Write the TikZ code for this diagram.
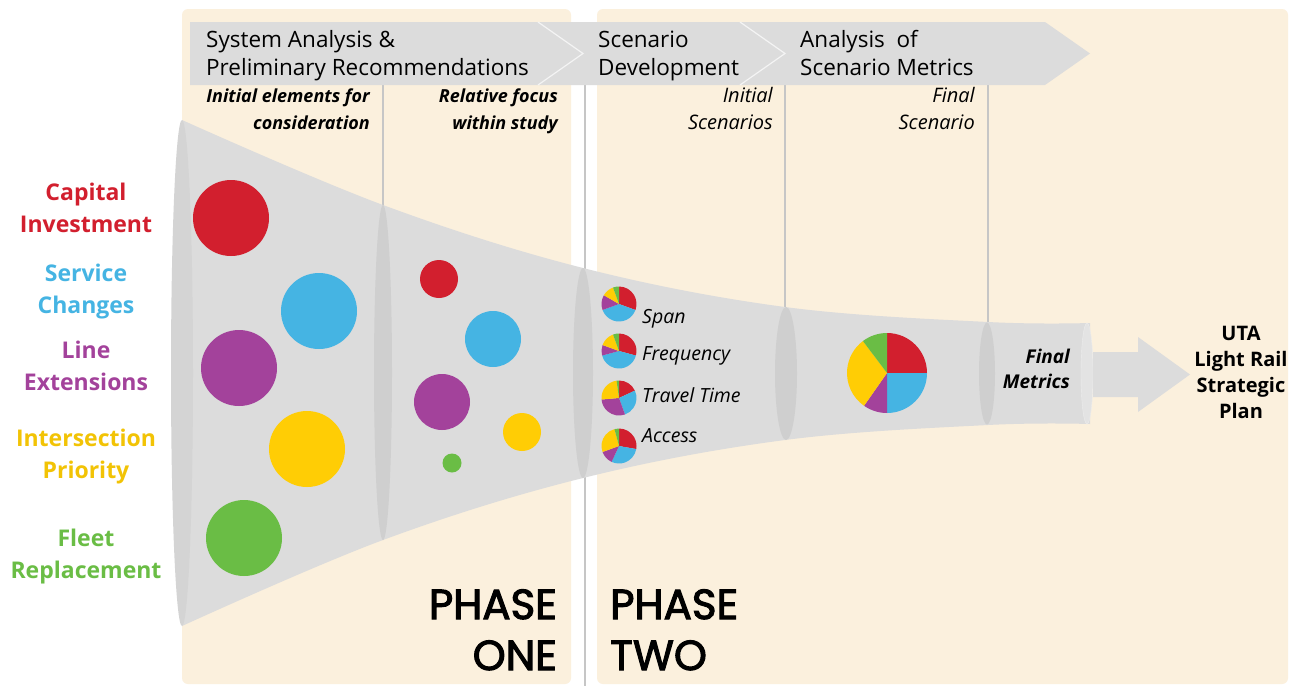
\documentclass[tikz,border=0pt]{standalone}
\usepackage{fontspec}
\setmainfont{Open Sans}
\newfontfamily\phasefont{Poppins}[FakeBold=2.5]
\definecolor{capred}{HTML}{D21F2E}
\definecolor{servblue}{HTML}{45B4E3}
\definecolor{lineplum}{HTML}{A3429B}
\definecolor{prioyellow}{HTML}{FFCD05}
\definecolor{fleetgreen}{HTML}{6ABD45}
\definecolor{beige}{HTML}{FBF0DD}
\definecolor{funnelgrey}{HTML}{DCDCDC}
\definecolor{ringgrey}{HTML}{CFCFCF}
\definecolor{rulegrey}{HTML}{C6C6C6}
\begin{document}
\begin{tikzpicture}[x=1pt, y=-1pt,
    panel/.style={fill=beige, rounded corners=6pt},
    rule/.style={draw=rulegrey, line width=1.6pt},
    chevline/.style={draw=white!70!funnelgrey, line width=1.2pt},
    ring/.style={fill=ringgrey},
    chevtext/.style={anchor=base west, align=left, inner sep=0pt, font=\fontsize{22.5}{28}\selectfont},
    steplabel/.style={anchor=base east, align=right, inner sep=0pt, font=\bfseries\itshape\fontsize{18}{27}\selectfont},
    scenlabel/.style={anchor=base east, align=right, inner sep=0pt, font=\itshape\fontsize{20}{27}\selectfont},
    factor/.style={anchor=base, align=center, inner sep=0pt, font=\bfseries\fontsize{23}{32}\selectfont},
    metric/.style={anchor=base west, inner sep=0pt, font=\itshape\fontsize{19.5}{23}\selectfont},
    phase/.style={inner sep=0pt, font=\phasefont\fontsize{42}{51}\selectfont}]
    \fill[white] (0,0) rectangle (1291,686);
    \useasboundingbox (0,0) rectangle (1291,686);
    % phase panels
    \fill[panel] (182,9) rectangle (571,684);
    \fill[panel] (597,9) rectangle (1288,684);
    \draw[rule] (383,84) -- (383,210);
    \draw[rule] (585,84) -- (585,686);
    \draw[rule] (785,84) -- (785,310);
    \draw[rule] (988,84) -- (988,325);
    % process band
    \fill[funnelgrey] (190,22) -- (1045,22) -- (1090,53.5) -- (1045,85) -- (190,85) -- cycle;
    \draw[chevline] (538,22) -- (583,53.5) -- (538,85);
    \draw[chevline] (740,22) -- (785,53.5) -- (740,85);
    \node[chevtext] (sysanalysis) at (206,75) {System Analysis \&\\Preliminary Recommendations};
    \node[chevtext] (scendev) at (598,75) {Scenario\\Development};
    \node[chevtext] (scenmetrics) at (800,75) {Analysis~ of\\Scenario Metrics};
    \node[steplabel] (initial) at (370,129) {Initial elements for\\consideration};
    \node[steplabel] (relative) at (558,129) {Relative focus\\within study};
    \node[scenlabel] (initscen) at (773,129) {Initial\\Scenarios};
    \node[scenlabel] (finalscen) at (975,129) {Final\\Scenario};
    % funnel
    \fill[funnelgrey] plot[smooth, tension=0.6] coordinates {(182,120) (383,205) (583,268) (785,307) (988,322) (1090,323)}
        -- plot[smooth, tension=0.6] coordinates {(1090,424) (988,425) (785,440) (583,478) (383,540) (182,626)} -- cycle;
    \fill[fill=black!17] (182,373) ellipse[x radius=11pt, y radius=253pt];
    \fill[ring] (383,372.5) ellipse[x radius=9pt, y radius=167.5pt];
    \fill[ring] (583,373) ellipse[x radius=10pt, y radius=105pt];
    \fill[ring] (786,373.5) ellipse[x radius=11pt, y radius=66.5pt];
    \fill[ring] (987,373.5) ellipse[x radius=8pt, y radius=51pt];
    \filldraw[fill=black!11, draw=black!7] (1087,373.5) ellipse[x radius=6pt, y radius=50.5pt];
    \coordinate (funnelend) at (1093,374.5);
    \fill[funnelgrey] (funnelend) ++(0,-22.5) -- ++(45,0) -- ++(0,-15) -- (1190,374.5) -- (1138,412) -- ++(0,-15) -- ++(-45,0) -- cycle;
    % left factors
    \node[factor, text=capred] (capital) at (86,232) {Capital\\Investment};
    \node[factor, text=servblue] (service) at (86,313) {Service\\Changes};
    \node[factor, text=lineplum] (line) at (86,390) {Line\\Extensions};
    \node[factor, text=prioyellow!95!black] (priority) at (86,478) {Intersection\\Priority};
    \node[factor, text=fleetgreen] (fleet) at (86,578) {Fleet\\Replacement};
    % initial elements
    \fill[capred] (231,218) circle[radius=38pt];
    \fill[servblue] (319,311) circle[radius=38pt];
    \fill[lineplum] (239,368) circle[radius=38pt];
    \fill[prioyellow] (307,449) circle[radius=38pt];
    \fill[fleetgreen] (244,538) circle[radius=38pt];
    % relative focus
    \fill[capred] (439,279) circle[radius=19pt];
    \fill[servblue] (493,339) circle[radius=28pt];
    \fill[lineplum] (442,402) circle[radius=28pt];
    \fill[prioyellow] (522,432) circle[radius=19pt];
    \fill[fleetgreen] (452,463) circle[radius=9.5pt];
    % initial scenarios
    \coordinate (spanpie) at (619,304);
    \coordinate (freqpie) at (619,351);
    \coordinate (travelpie) at (619,398);
    \coordinate (accesspie) at (619,446);
    \foreach \s/\e/\c in {90/-20/capred, -20/-160/servblue, -160/-210/lineplum, -210/-250/prioyellow, -250/-270/fleetgreen}
        \fill[\c] (spanpie) -- ++(\s:17.5pt) arc[start angle=\s, end angle=\e, radius=17.5pt] -- cycle;
    \foreach \s/\e/\c in {90/-15/capred, -15/-165/servblue, -165/-200/lineplum, -200/-250/prioyellow, -250/-270/fleetgreen}
        \fill[\c] (freqpie) -- ++(\s:17.5pt) arc[start angle=\s, end angle=\e, radius=17.5pt] -- cycle;
    \foreach \s/\e/\c in {90/25/capred, 25/-70/servblue, -70/-175/lineplum, -175/-262/prioyellow, -262/-270/fleetgreen}
        \fill[\c] (travelpie) -- ++(\s:17.5pt) arc[start angle=\s, end angle=\e, radius=17.5pt] -- cycle;
    \foreach \s/\e/\c in {90/-10/capred, -10/-115/servblue, -115/-160/lineplum, -160/-255/prioyellow, -255/-270/fleetgreen}
        \fill[\c] (accesspie) -- ++(\s:17.5pt) arc[start angle=\s, end angle=\e, radius=17.5pt] -- cycle;
    \node[metric] (span) at (642,323) {Span};
    \node[metric] (frequency) at (642,360) {Frequency};
    \node[metric] (travel) at (642,402) {Travel Time};
    \node[metric] (access) at (642,442) {Access};
    % final scenario
    \coordinate (finalpie) at (887,373);
    \foreach \s/\e/\c in {90/0/capred, 0/-90/servblue, -90/-125/lineplum, -125/-233/prioyellow, -233/-270/fleetgreen}
        \fill[\c] (finalpie) -- ++(\s:40pt) arc[start angle=\s, end angle=\e, radius=40pt] -- cycle;
    \node[anchor=base east, align=right, inner sep=0pt, font=\bfseries\itshape\fontsize{19}{25}\selectfont] (finalmetrics) at (1070,388) {Final\\Metrics};
    \node[anchor=base, align=center, inner sep=0pt, font=\bfseries\fontsize{20}{26}\selectfont] (plan) at (1241,418) {UTA\\Light Rail\\Strategic\\Plan};
    % phases
    \node[phase, anchor=base east, align=right] (phaseone) at (557,670) {PHASE\\ONE};
    \node[phase, anchor=base west, align=left] (phasetwo) at (610,670) {PHASE\\TWO};
\end{tikzpicture}
\end{document}
